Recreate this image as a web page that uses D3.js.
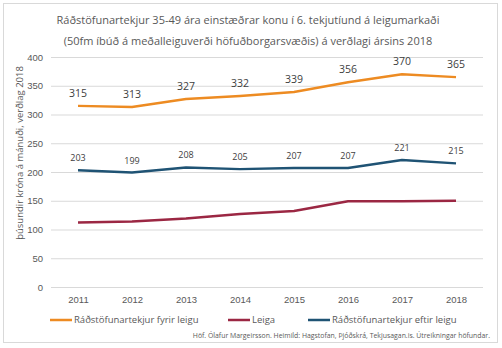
<!DOCTYPE html>
<html lang="is">
<head>
<meta charset="UTF-8" />
<title>Ráðstöfunartekjur og leiga</title>
<style>
    body, html { margin: 0; padding: 0; background: #fff; overflow: hidden; }
    svg { display: block; font-family: "Open Sans", sans-serif; }
    .grid line { stroke: #d9d9d9; stroke-width: 1px; }
    .tick text { fill: #595959; font-size: 9.5px; }
</style>
</head>
<body>
<svg width="502" height="348"></svg>
<script src="https://d3js.org/d3.v7.min.js"></script>
<script>
    const years = [2011, 2012, 2013, 2014, 2015, 2016, 2017, 2018];
    const fyrirLeigu = [315, 313, 327, 332, 339, 356, 370, 365];
    const eftirLeigu = [203, 199, 208, 205, 207, 207, 221, 215];
    const leiga = [112, 114, 119, 127, 132, 149, 149, 150];
    const yTicks = [0, 50, 100, 150, 200, 250, 300, 350, 400];

    const series = [
        { name: "Ráðstöfunartekjur fyrir leigu", values: fyrirLeigu, color: "#ED8B22", labels: true, labelSize: 10.5 },
        { name: "Leiga", values: leiga, color: "#9B2743", labels: false },
        { name: "Ráðstöfunartekjur eftir leigu", values: eftirLeigu, color: "#1F5374", labels: true, labelSize: 9 }
    ];

    const svg = d3.select("svg");

    // ramminn
    svg.append("rect")
        .attr("x", 3.5).attr("y", 3.5)
        .attr("width", 494).attr("height", 339)
        .attr("fill", "none").attr("stroke", "#d9d9d9");

    const x = d3.scalePoint().domain(years).range([51, 483]).padding(0.5);
    const y = d3.scaleLinear().domain([0, 400]).range([287, 57]);

    // gridlínur
    svg.append("g").attr("class", "grid")
        .selectAll("line").data(yTicks).join("line")
        .attr("x1", 51).attr("x2", 483)
        .attr("y1", d => y(d) + 0.5).attr("y2", d => y(d) + 0.5);

    const yAxis = svg.append("g")
        .attr("transform", "translate(46,0)")
        .call(d3.axisLeft(y).tickValues(yTicks).tickSize(0).tickPadding(3));
    yAxis.select(".domain").remove();

    const xAxis = svg.append("g")
        .attr("transform", "translate(0,287)")
        .call(d3.axisBottom(x).tickSize(0).tickPadding(9));
    xAxis.select(".domain").remove();

    const line = d3.line()
        .x((d, i) => x(years[i]))
        .y(d => y(d));

    series.forEach(s => {
        svg.append("path")
            .datum(s.values)
            .attr("fill", "none")
            .attr("stroke", s.color)
            .attr("stroke-width", 2.5)
            .attr("stroke-linejoin", "round")
            .attr("d", line);

        if (s.labels) {
            svg.append("g").selectAll("text").data(s.values).join("text")
                .attr("x", (d, i) => x(years[i]))
                .attr("y", d => y(d) - 9)
                .attr("text-anchor", "middle")
                .attr("font-size", s.labelSize)
                .attr("fill", "#404040")
                .text(d => d);
        }
    });

    // titill
    const title = svg.append("text")
        .attr("text-anchor", "middle")
        .attr("font-size", 11)
        .attr("fill", "#595959");
    title.append("tspan").attr("x", 248).attr("y", 24)
        .text("Ráðstöfunartekjur 35-49 ára einstæðrar konu í 6. tekjutíund á leigumarkaði");
    title.append("tspan").attr("x", 248).attr("y", 45)
        .text("(50fm íbúð á meðalleiguverði höfuðborgarsvæðis) á verðlagi ársins 2018");

    // ásheiti
    svg.append("text")
        .attr("transform", "translate(20,153) rotate(-90)")
        .attr("text-anchor", "middle")
        .attr("dy", "0.35em")
        .attr("font-size", 9.5)
        .attr("fill", "#595959")
        .text("þúsundir króna á mánuði, verðlag 2018");

    // skýringar
    const legendX = [50, 228, 308];
    const legend = svg.append("g").selectAll("g").data(series).join("g")
        .attr("transform", (d, i) => `translate(${legendX[i]},320)`);
    legend.append("line")
        .attr("x1", 0).attr("x2", 22)
        .attr("stroke", d => d.color).attr("stroke-width", 2.5);
    legend.append("text")
        .attr("x", 24).attr("dy", "0.35em")
        .attr("font-size", 9.5)
        .attr("fill", "#595959")
        .text(d => d.name);

    svg.append("text")
        .attr("x", 490).attr("y", 338)
        .attr("text-anchor", "end")
        .attr("font-size", 6.9)
        .attr("fill", "#595959")
        .text("Höf. Ólafur Margeirsson. Heimild: Hagstofan, Þjóðskrá, Tekjusagan.is. Útreikningar höfundar.");
</script>
</body>
</html>
